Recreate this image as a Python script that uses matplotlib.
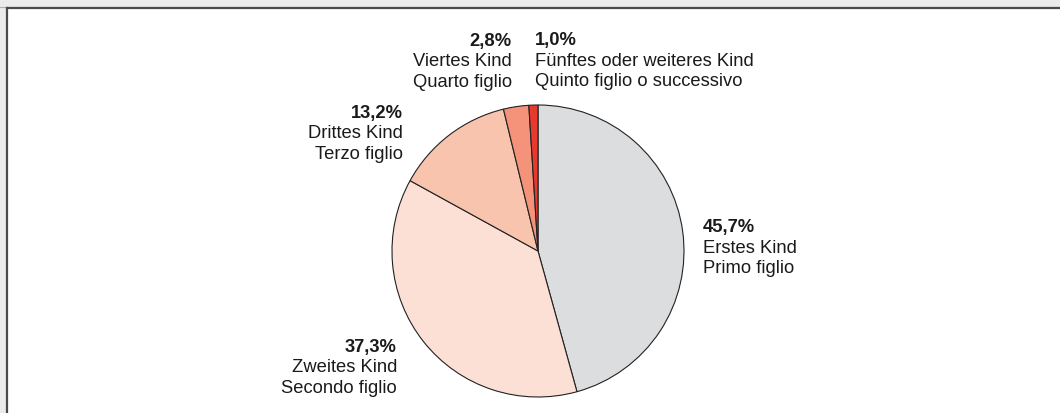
import matplotlib
matplotlib.use("Agg")
import matplotlib.pyplot as plt
from matplotlib.patches import Rectangle
from matplotlib.lines import Line2D

plt.rcParams['font.family'] = ['Liberation Sans', 'DejaVu Sans']

# data
shares = [45.7, 37.3, 13.2, 2.8, 1.0]
pct_labels = ["45,7%", "37,3%", "13,2%", "2,8%", "1,0%"]
names_de = ["Erstes Kind", "Zweites Kind", "Drittes Kind", "Viertes Kind",
            "Fünftes oder weiteres Kind"]
names_it = ["Primo figlio", "Secondo figlio", "Terzo figlio", "Quarto figlio",
            "Quinto figlio o successivo"]
colors = ["#dcdddf", "#fde0d5", "#f9c4ae", "#f4937a", "#e8392f"]

# label anchors in pixels (x, first baseline y from top) and alignment
label_pos = [(703, 232), (397, 352), (403, 118), (512, 46), (535, 45)]
label_ha = ["left", "right", "right", "right", "left"]

W, H = 1060, 413
fig = plt.figure(figsize=(W / 100, H / 100), dpi=100)

# outer grey frame with dark left/top edge (screenshot crop)
fig.patches.append(Rectangle((0, 0), 1, 1, transform=fig.transFigure,
                             facecolor="#ebebeb", edgecolor="none", zorder=-3))
fig.patches.append(Rectangle((7 / W, 0), 1, 1 - 8 / H, transform=fig.transFigure,
                             facecolor="white", edgecolor="none", zorder=-2))
fig.lines.append(Line2D([0, 1], [1 - 6.5 / H, 1 - 6.5 / H], transform=fig.transFigure,
                        color="#b0b0b0", lw=0.8))
fig.lines.append(Line2D([6.5 / W, 6.5 / W], [0, 1 - 7.5 / H], transform=fig.transFigure,
                        color="#4a4a4a", lw=1.6))
fig.lines.append(Line2D([6.5 / W, 1], [1 - 7.5 / H, 1 - 7.5 / H], transform=fig.transFigure,
                        color="#4a4a4a", lw=1.6))

cx, cy, r = 538, 251, 146
ax = fig.add_axes([(cx - r) / W, (H - cy - r) / H, 2 * r / W, 2 * r / H])
ax.pie(shares, colors=colors, startangle=90, counterclock=False, radius=1,
       wedgeprops=dict(edgecolor="#222222", linewidth=0.8))
ax.set_xlim(-1, 1)
ax.set_ylim(-1, 1)
ax.set_aspect("equal")
ax.axis("off")

line_h = 20.5
for i in range(len(shares)):
    px, py = label_pos[i]
    lines = [(pct_labels[i], "bold"), (names_de[i], "normal"), (names_it[i], "normal")]
    for j, (txt, wt) in enumerate(lines):
        fig.text(px / W, 1 - (py + j * line_h) / H, txt, ha=label_ha[i], va="baseline",
                 fontsize=13.2, fontweight=wt, color="#1a1a1a")

fig.savefig("out.png", dpi=100)
